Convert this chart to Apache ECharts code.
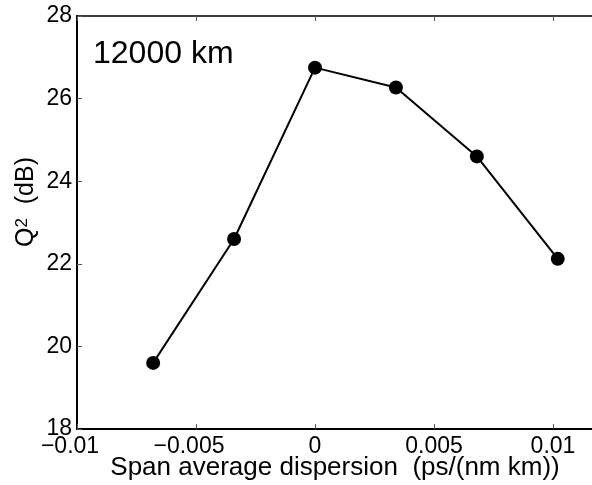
<!DOCTYPE html>
<html><head><meta charset="utf-8">
<script src="https://cdn.jsdelivr.net/npm/echarts@6/dist/echarts.min.js"></script>
<style>html,body{margin:0;padding:0;background:#fff}#c{width:592px;height:485px}</style>
</head><body><div id="c"></div>
<script>
const dispersion = [-0.0068, -0.0034, 0, 0.0034, 0.0068, 0.0102];
const q2dB = [19.6, 22.6, 26.75, 26.27, 24.6, 22.12];
const xTicks = [-0.01, -0.005, 0, 0.005, 0.01, 0.015];
const yTicks = [18, 20, 22, 24, 26, 28];
const annotation = '12000 km';
const xName = 'Span average dispersion  (ps/(nm km))';

const font = 'Liberation Sans, Arial, sans-serif';
const chart = echarts.init(document.getElementById('c'), null, {renderer: 'canvas'});
const fmtX = v => {
  const r = Math.round(v * 1000) / 1000;
  if (r === 0) return '0';
  if (r < 0) return '{n|' + String(r).replace('-', '\u2212') + '}';
  return String(r);
};
chart.setOption({
  animation: false,
  grid: {left: 77, top: 16, width: 595, height: 413, containLabel: false, outerBoundsMode: 'none',
         show: true, borderColor: '#000', borderWidth: 1.5, backgroundColor: '#fff'},
  xAxis: [{
    type: 'value', min: xTicks[0], max: xTicks[xTicks.length - 1], interval: 0.005,
    axisLine: {show: true, onZero: false, lineStyle: {color: '#000', width: 2}},
    axisTick: {show: true, inside: true, length: 5, lineStyle: {color: '#555'}},
    splitLine: {show: false},
    axisLabel: {color: '#000', fontFamily: font, fontSize: 23, margin: 6, formatter: fmtX,
      rich: {n: {fontFamily: font, fontSize: 23, color: '#000', padding: [0, 14, 0, 0]}}}
  }, {
    type: 'value', position: 'top', min: xTicks[0], max: xTicks[xTicks.length - 1], interval: 0.005,
    axisLine: {show: false},
    axisTick: {show: true, inside: true, length: 5, lineStyle: {color: '#555'}},
    splitLine: {show: false}, axisLabel: {show: false}
  }],
  yAxis: {
    type: 'value', min: yTicks[0], max: yTicks[yTicks.length - 1], interval: 2,
    axisLine: {show: true, onZero: false, lineStyle: {color: '#000', width: 2}},
    axisTick: {show: true, inside: true, length: 5, lineStyle: {color: '#555'}},
    splitLine: {show: false},
    axisLabel: {color: '#000', fontFamily: font, fontSize: 23, margin: 5}
  },
  series: [{
    type: 'line', xAxisIndex: 0,
    data: dispersion.map((x, i) => [x, q2dB[i]]),
    symbol: 'circle', symbolSize: 14,
    lineStyle: {color: '#000', width: 2},
    itemStyle: {color: '#000'}
  }],
  graphic: [
    {type: 'text', x: 93, y: 54, style: {text: annotation, fontFamily: font, fontSize: 32, fill: '#000', verticalAlign: 'middle'}},
    {type: 'text', x: 335, y: 468, style: {text: xName, fontFamily: font, fontSize: 26, fill: '#000', align: 'center', verticalAlign: 'middle'}},
    {type: 'text', x: 26, y: 202, rotation: Math.PI / 2,
     style: {text: '{a|Q}{s|2}{a|  (dB)}', align: 'center', verticalAlign: 'middle', fill: '#000',
       rich: {a: {fontFamily: font, fontSize: 25, lineHeight: 25, fill: '#000', verticalAlign: 'bottom'},
              s: {fontFamily: font, fontSize: 17, lineHeight: 17, fill: '#000', verticalAlign: 'top', padding: [0, 0, 14, 0]}}}}
  ]
});
</script></body></html>
